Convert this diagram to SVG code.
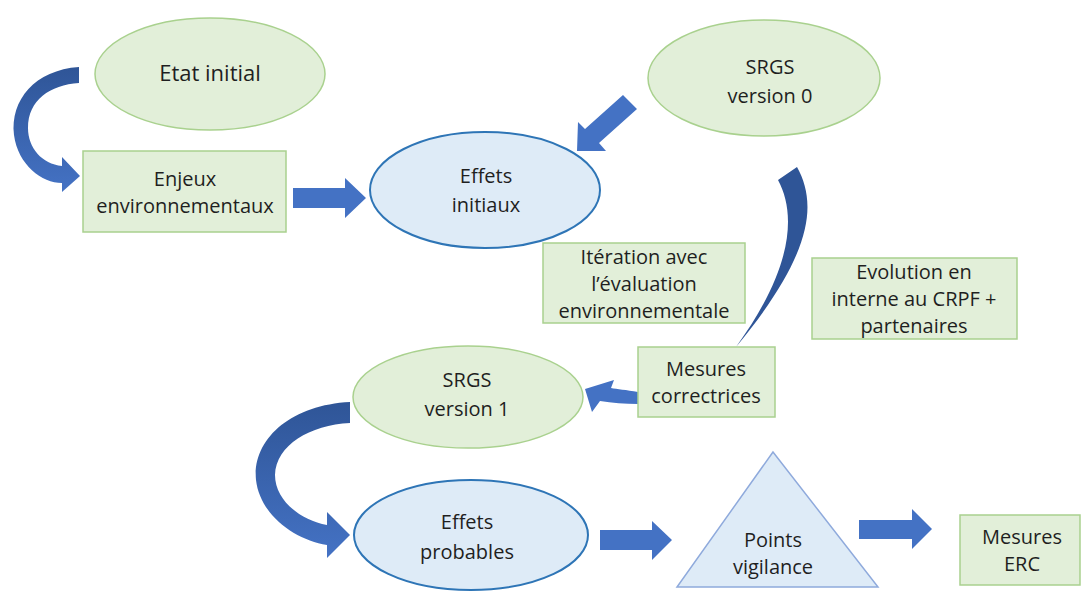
<svg xmlns="http://www.w3.org/2000/svg" width="1086" height="593" viewBox="0 0 1086 593">
<defs>
<linearGradient id="gv" x1="0" y1="0" x2="0" y2="1">
<stop offset="0" stop-color="#2f5597"/>
<stop offset="1" stop-color="#4472c4"/>
</linearGradient>
<style>
.g{fill:#e2efd9;stroke:#a9d18e;stroke-width:1.5}
.b{fill:#deebf7;stroke:#2e75b6;stroke-width:2}
.t{fill:#deebf7;stroke:#8faadc;stroke-width:1.5}
.a{fill:#4472c4}
.ac{fill:url(#gv)}
text{font-family:"Open Sans","Liberation Sans",sans-serif;font-size:20px;fill:#1f1f1f;text-anchor:middle}
</style>
</defs>
<rect width="1086" height="593" fill="#ffffff"/>
<g id="connectors">
<path class="ac" d="M79,67 C35,70 10,100 14,135 C18,165 42,183 62,183 L62,192 L80,176 L62,157 L62,166 C42,164 28,148 28,128 C28,100 50,85 79,83 Z"/>
<path class="a" d="M293,188 L345,188 L345,178 L366,198 L345,218 L345,208 L293,208 Z"/>
<path class="a" d="M623,95 L637,109 L599,143 L606,151 L577,151 L578,122 L585,129 Z"/>
<path fill="#2f5597" d="M778,180 L797,167 C818,205 812,255 736,347 C792,270 797,215 778,180 Z"/>
<path class="a" d="M638,392 C626,390 617,389 611,388 L614,380 L585,389 L592,412 L600,401 C612,403 625,404 638,404 Z"/>
<path class="ac" d="M350,402 C290,405 252,440 256,480 C260,515 295,540 327,545 L327,558 L350,535 L327,512 L327,525 C300,520 275,500 275,475 C276,445 310,425 350,423 Z"/>
<path class="a" d="M600,530 L652,530 L652,521 L672,540 L652,560 L652,550 L600,550 Z"/>
<path class="a" d="M859,520 L912,520 L912,509 L932,529 L912,549 L912,539 L859,539 Z"/>
</g>
<g id="etat-initial">
<ellipse class="g" cx="210" cy="74" rx="115" ry="56"/>
<text x="210" y="81" style="font-size:22px">Etat initial</text>
</g>
<g id="enjeux">
<rect class="g" x="83" y="151" width="203" height="81"/>
<text x="185" y="186">Enjeux</text>
<text x="185" y="213">environnementaux</text>
</g>
<g id="effets-initiaux">
<ellipse class="b" cx="485" cy="190" rx="115" ry="58"/>
<text x="486" y="183">Effets</text>
<text x="486" y="212">initiaux</text>
</g>
<g id="srgs-v0">
<ellipse class="g" cx="764" cy="78" rx="116" ry="58"/>
<text x="770" y="74">SRGS</text>
<text x="770" y="103">version 0</text>
</g>
<g id="iteration">
<rect class="g" x="543" y="243" width="202" height="80"/>
<text x="644" y="264">Itération avec</text>
<text x="644" y="291">l’évaluation</text>
<text x="644" y="318">environnementale</text>
</g>
<g id="evolution">
<rect class="g" x="812" y="258" width="205" height="81"/>
<text x="914" y="279">Evolution en</text>
<text x="914" y="306">interne au CRPF +</text>
<text x="914" y="333">partenaires</text>
</g>
<g id="mesures-correctrices">
<rect class="g" x="638" y="347" width="137" height="70"/>
<text x="706" y="376">Mesures</text>
<text x="706" y="403">correctrices</text>
</g>
<g id="srgs-v1">
<ellipse class="g" cx="468" cy="397" rx="115" ry="51"/>
<text x="467" y="387">SRGS</text>
<text x="467" y="416">version 1</text>
</g>
<g id="effets-probables">
<ellipse class="b" cx="471" cy="535" rx="117" ry="55"/>
<text x="467" y="529">Effets</text>
<text x="467" y="559">probables</text>
</g>
<g id="points-vigilance">
<polygon class="t" points="773,452 677,587 878,587"/>
<text x="773" y="547">Points</text>
<text x="773" y="574">vigilance</text>
</g>
<g id="mesures-erc">
<rect class="g" x="960" y="515" width="120" height="70"/>
<text x="1022" y="544">Mesures</text>
<text x="1022" y="571">ERC</text>
</g>
</svg>
